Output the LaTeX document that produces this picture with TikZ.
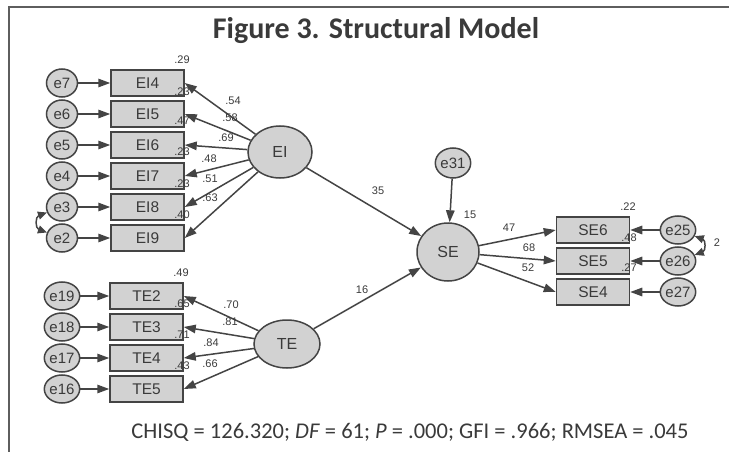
\documentclass[tikz,border=0pt]{standalone}
\usepackage{fontspec}
\setmainfont{Carlito}
\newfontfamily\amosfont{Liberation Sans}
\usetikzlibrary{arrows.meta,shapes.geometric}

\definecolor{linegray}{HTML}{444444}
\definecolor{boxgray}{HTML}{D2D2D2}
\definecolor{textgray}{HTML}{3A3A3A}
\definecolor{framegray}{HTML}{5E5E5E}

\tikzset{
  obsbox/.style={rectangle, draw=linegray, fill=boxgray, line width=1.5pt,
    minimum width=73pt, minimum height=26pt, inner sep=0pt,
    font=\amosfont\fontsize{15.5}{16}\selectfont, text=textgray},
  errnode/.style={ellipse, draw=linegray, fill=boxgray, line width=1.5pt,
    minimum width=31pt, minimum height=28pt, inner sep=0pt,
    font=\amosfont\fontsize{15}{15}\selectfont, text=textgray},
  latnode/.style={ellipse, draw=linegray, fill=boxgray, line width=1.5pt,
    inner sep=0pt, font=\amosfont\fontsize{16}{16}\selectfont, text=textgray},
  regpath/.style={draw=linegray, line width=1.5pt,
    -{Triangle[length=12pt,width=8.5pt]}},
  covpath/.style={draw=linegray, line width=1.5pt,
    {Triangle[length=9pt,width=8pt]}-{Triangle[length=9pt,width=8pt]}},
  est/.style={font=\amosfont\fontsize{11}{11}\selectfont, text=textgray, inner sep=0pt},
}

\begin{document}
\begin{tikzpicture}[x=1pt,y=-1pt]
\useasboundingbox (0,0) rectangle (729,452);

% frame
\draw[framegray, line width=2pt] (9,452) -- (9,7) -- (729,7);

% title and fit statistics
\node[font=\bfseries\fontsize{30}{30}\selectfont, text=textgray] (title) at (376,31) {Figure 3. Structural Model};
\node[font=\fontsize{22.5}{23}\selectfont, text=textgray] (fit) at (410,432)
  {CHISQ = 126.320; \textit{DF} = 61; \textit{P} = .000; GFI = .966; RMSEA = .045};

% latent variables
\node[latnode, minimum width=64pt, minimum height=52pt] (EI) at (280,152) {EI};
\node[latnode, minimum width=66pt, minimum height=48pt] (TE) at (287,344) {TE};
\node[latnode, minimum width=62pt, minimum height=58pt] (SE) at (448,252) {SE};
\node[errnode, minimum width=32pt, minimum height=30pt] (e31) at (453,163) {e31};

% EI indicators
\foreach \i/\e/\y in {4/7/83, 5/6/114, 6/5/145, 7/4/176, 8/3/207, 9/2/238}{
  \node[obsbox] (EI\i) at (147.5,\y) {EI\i};
  \node[errnode] (e\e) at (62,\y) {e\e};
  \draw[regpath] (e\e) -- (EI\i);
  \draw[regpath] (EI) -- (EI\i.east);
}

% TE indicators
\foreach \i/\e/\y in {2/19/296, 3/18/327, 4/17/358, 5/16/389}{
  \node[obsbox] (TE\i) at (146.5,\y) {TE\i};
  \node[errnode] (e\e) at (62,\y) {e\e};
  \draw[regpath] (e\e) -- (TE\i);
  \draw[regpath] (TE) -- (TE\i.east);
}

% SE indicators
\foreach \i/\e/\y in {6/25/230, 5/26/261, 4/27/292}{
  \node[obsbox] (SE\i) at (593,\y) {SE\i};
  \node[errnode] (e\e) at (678,\y) {e\e};
  \draw[regpath] (e\e) -- (SE\i);
  \draw[regpath] (SE) -- (SE\i.west);
}

% structural paths
\draw[regpath] (EI) -- (SE);
\draw[regpath] (TE) -- (SE);
\draw[regpath] (e31) -- (SE);

% error covariances
\draw[covpath] (e3.200) to[out=200,in=160,looseness=1.6] (e2.160);
\draw[covpath] (e25.-20) to[out=-20,in=20,looseness=1.6] (e26.20);
\node[est] (c2526) at (717,243) {2};

% squared multiple correlations
\node[est] (r1) at (182,60) {.29};
\node[est] (r2) at (182,92) {.23};
\node[est] (r3) at (182,121) {.47};
\node[est] (r4) at (182,152) {.23};
\node[est] (r5) at (182,184) {.23};
\node[est] (r6) at (182,215) {.40};
\node[est] (r7) at (181,273) {.49};
\node[est] (r8) at (182,304) {.65};
\node[est] (r9) at (182,335) {.71};
\node[est] (r10) at (182,366) {.43};
\node[est] (r11) at (470,215) {15};
\node[est] (r12) at (628,207) {.22};
\node[est] (r13) at (629,238) {.48};
\node[est] (r14) at (629,268) {.27};

% standardized weights
\node[est] (w1) at (233,101) {.54};
\node[est] (w2) at (230,118) {.58};
\node[est] (w3) at (226,138) {.69};
\node[est] (w4) at (209,159) {.48};
\node[est] (w5) at (210,179) {.51};
\node[est] (w6) at (210,198) {.63};
\node[est] (w7) at (231,305) {.70};
\node[est] (w8) at (230,322) {.81};
\node[est] (w9) at (211,343) {.84};
\node[est] (w10) at (210,364) {.66};
\node[est] (w11) at (378,191) {35};
\node[est] (w12) at (362,290) {16};
\node[est] (w13) at (509,228) {47};
\node[est] (w14) at (529,248) {68};
\node[est] (w15) at (528,268) {52};
\end{tikzpicture}
\end{document}
